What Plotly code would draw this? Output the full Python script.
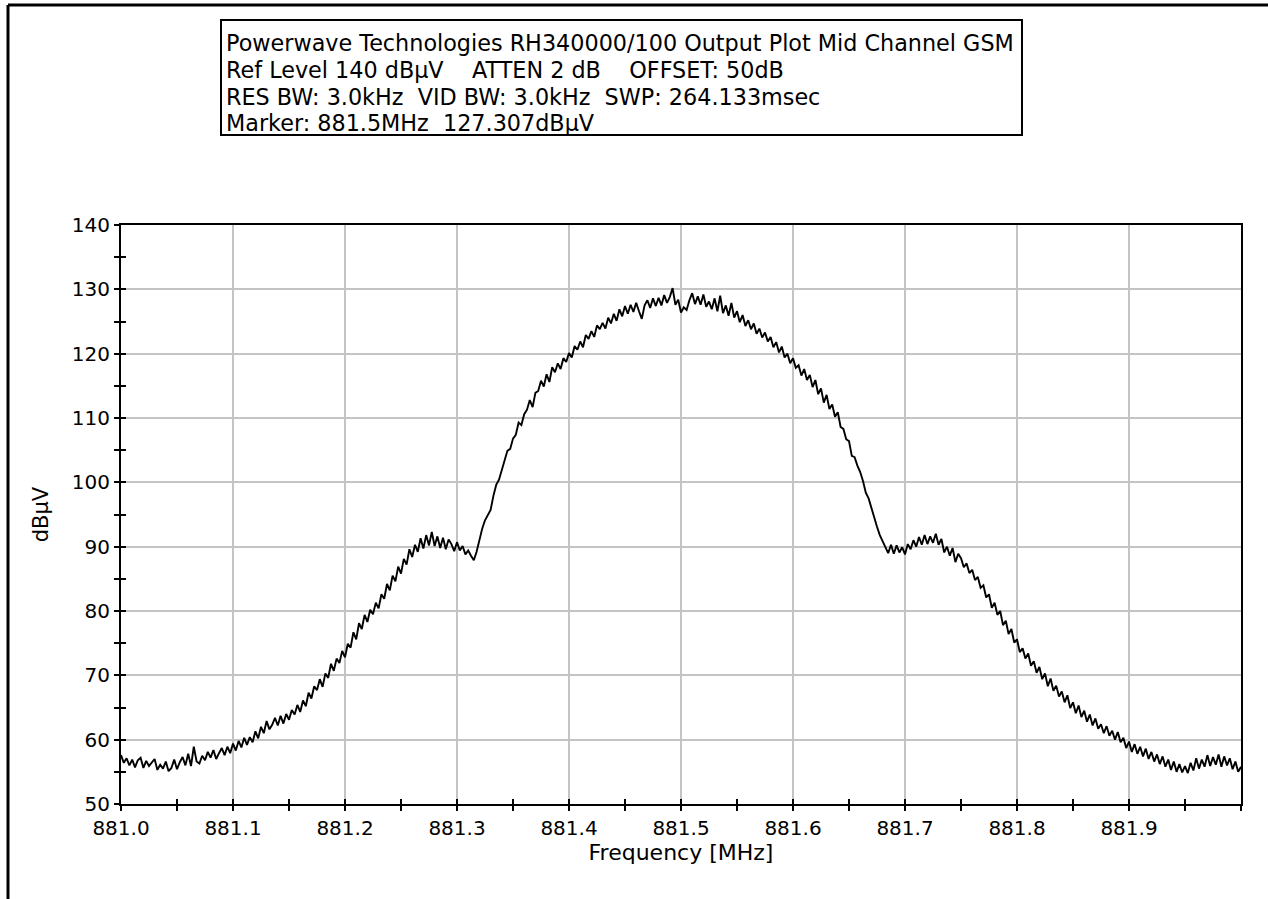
import plotly.graph_objects as go

freq_start = 881.0
freq_step = 0.0025
level_dbuv = [
    57.6, 56.4, 57.1, 56.0, 56.9, 55.7, 56.8, 57.2, 55.6, 56.7, 55.9, 56.4,
    57.0, 55.3, 56.1, 55.5, 56.6, 55.1, 55.6, 56.9, 55.4, 56.5, 57.3, 56.0,
    57.8, 55.9, 58.9, 56.6, 56.3, 57.5, 56.8, 58.1, 57.2, 58.4, 57.0, 57.9,
    58.7, 57.6, 58.9, 57.9, 59.4, 58.3, 59.8, 58.8, 60.3, 59.2, 60.4, 59.6,
    61.3, 60.2, 62.0, 61.0, 62.9, 61.6, 62.3, 63.4, 62.2, 63.7, 62.5, 64.0,
    63.1, 64.6, 63.9, 65.4, 64.3, 66.1, 65.2, 67.3, 66.4, 68.3, 67.7, 69.4,
    68.2, 70.3, 69.6, 71.8, 70.7, 72.6, 71.9, 73.8, 72.8, 74.9, 74.3, 76.7,
    75.6, 78.1, 77.2, 79.4, 78.3, 80.2, 79.5, 81.3, 80.4, 82.6, 81.9, 84.2,
    83.2, 85.5, 84.6, 86.9, 85.8, 88.1, 87.2, 89.6, 88.4, 90.3, 89.2, 91.3,
    89.7, 91.8, 90.2, 92.3, 90.1, 91.6, 89.8, 91.4, 89.6, 91.1, 90.4, 89.3,
    90.7, 89.4, 90.1, 88.8, 89.4, 88.6, 87.9, 89.2, 91.2, 92.8, 94.1, 95.0,
    95.7, 97.9, 99.6, 100.4, 101.9, 103.1, 104.9, 105.2, 106.8, 107.4, 109.3, 108.9,
    110.6, 111.3, 112.8, 111.7, 113.9, 114.2, 115.8, 114.9, 116.8, 115.6, 117.9, 117.1,
    118.5, 117.6, 119.3, 118.7, 120.1, 119.4, 121.2, 120.6, 121.9, 121.0, 122.9, 122.3,
    123.5, 122.6, 124.4, 123.8, 124.8, 123.9, 125.6, 124.7, 126.2, 125.1, 126.9, 125.8,
    127.4, 126.2, 127.6, 126.5, 127.9, 126.6, 125.4, 127.5, 128.3, 127.1, 128.6, 127.4,
    128.7, 127.5, 129.1, 127.9, 128.8, 130.2, 127.6, 128.4, 126.4, 127.2, 126.8, 128.3,
    129.4, 127.7, 128.9, 127.6, 129.2, 127.3, 128.1, 126.9, 128.6, 126.6, 129.0, 126.3,
    127.5, 125.9, 127.9, 125.6, 126.6, 124.9, 126.0, 124.3, 125.2, 123.8, 124.7, 123.1,
    123.9, 122.5, 123.3, 121.9, 122.6, 121.0, 121.8, 120.2, 121.1, 119.4, 120.0, 118.5,
    119.3, 117.8, 118.2, 116.6, 117.6, 115.9, 116.7, 114.8, 115.9, 113.7, 114.6, 112.4,
    113.6, 111.4, 112.1, 110.2, 110.9, 108.6, 108.3, 106.7, 106.4, 104.1, 103.9, 102.6,
    101.6, 100.2, 98.4, 97.5, 96.0, 94.3, 93.1, 91.8, 90.9, 90.1, 89.0, 90.3,
    88.9, 90.2, 89.1, 89.9, 88.8, 90.4, 89.6, 91.0, 90.0, 91.5, 90.3, 91.8,
    90.4, 91.6, 90.6, 92.0, 90.3, 91.2, 89.1, 90.0, 88.6, 89.8, 87.6, 88.9,
    88.2, 86.8, 87.4, 85.9, 86.4, 84.8, 85.3, 83.6, 84.0, 82.1, 82.6, 80.5,
    81.3, 79.4, 80.0, 77.8, 78.5, 76.4, 77.2, 75.1, 75.6, 73.6, 74.2, 72.6,
    73.4, 71.5, 72.2, 70.4, 71.3, 69.4, 70.3, 68.3, 69.5, 67.6, 68.4, 66.7,
    67.5, 65.8, 66.9, 64.9, 65.8, 64.1, 65.3, 63.5, 64.5, 62.8, 63.9, 62.2,
    63.3, 61.7, 62.4, 61.0, 62.1, 60.6, 61.4, 60.0, 61.2, 59.6, 60.3, 58.7,
    59.7, 58.1, 59.3, 57.8, 58.9, 57.4, 58.6, 57.0, 58.1, 56.6, 57.7, 56.2,
    57.4, 55.8, 56.9, 55.3, 56.6, 55.0, 56.2, 54.9, 55.9, 54.8, 56.4, 55.2,
    57.1, 55.5, 56.9, 55.8, 57.6, 55.9, 57.3, 56.1, 57.7, 55.8, 57.4, 56.0,
    57.1, 55.4, 56.6, 55.0, 55.8,
]
freq_mhz = [round(freq_start + i * freq_step, 5) for i in range(len(level_dbuv))]

x_ticks = [881.0, 881.1, 881.2, 881.3, 881.4, 881.5, 881.6, 881.7, 881.8, 881.9]
x_ticktext = ["881.0", "881.1", "881.2", "881.3", "881.4", "881.5", "881.6", "881.7", "881.8", "881.9"]
y_ticks = [50, 60, 70, 80, 90, 100, 110, 120, 130, 140]

header_lines = [
    "Powerwave Technologies RH340000/100 Output Plot Mid Channel GSM",
    "Ref Level 140 dBµV    ATTEN 2 dB    OFFSET: 50dB",
    "RES BW: 3.0kHz  VID BW: 3.0kHz  SWP: 264.133msec",
    "Marker: 881.5MHz  127.307dBµV",
]

FONT = "DejaVu Sans, Liberation Sans, Arial, sans-serif"

# plot area in page pixels (used only to place the header box / frame)
PX_L, PX_R, PX_T, PX_B = 121, 1241, 225, 804


def px_to_paper_x(px):
    return (px - PX_L) / (PX_R - PX_L)


def px_to_paper_y(py):
    return (PX_B - py) / (PX_B - PX_T)


fig = go.Figure()
fig.add_trace(go.Scatter(
    x=freq_mhz, y=level_dbuv, mode="lines",
    line=dict(color="black", width=1.9), showlegend=False, hoverinfo="x+y",
))
# invisible copy on overlay axes so that crossing tick marks get drawn
fig.add_trace(go.Scatter(
    x=freq_mhz, y=level_dbuv, mode="lines", xaxis="x2", yaxis="y2",
    line=dict(color="rgba(0,0,0,0)", width=0), showlegend=False, hoverinfo="skip",
))

header_annotations = []
line_y = [43, 70, 97, 123]
for txt, py in zip(header_lines, line_y):
    header_annotations.append(dict(
        text=txt, xref="paper", yref="paper",
        x=px_to_paper_x(224), y=px_to_paper_y(py),
        xanchor="left", yanchor="middle", align="left", showarrow=False,
        font=dict(family=FONT, size=22.3, color="black"),
    ))

fig.update_layout(
    width=1268, height=899,
    margin=dict(l=PX_L, r=1268 - PX_R, t=PX_T, b=899 - PX_B),
    paper_bgcolor="white", plot_bgcolor="white",
    font=dict(family=FONT, color="black", size=20),
    xaxis=dict(
        range=[881.0, 882.0], tickvals=x_ticks, ticktext=x_ticktext,
        showgrid=True, gridcolor="#c4c4c4", gridwidth=2,
        showline=True, linecolor="black", linewidth=2.2, mirror=True,
        ticks="outside", ticklen=5, tickwidth=2, tickcolor="black",
        minor=dict(dtick=0.05, tick0=881.0, ticks="outside", ticklen=5, tickwidth=2, tickcolor="black", showgrid=False),
        tickfont=dict(size=20), zeroline=False,
        title=dict(text="Frequency [MHz]", font=dict(size=22), standoff=5),
    ),
    yaxis=dict(
        range=[50, 140], tickvals=y_ticks,
        showgrid=True, gridcolor="#c4c4c4", gridwidth=2,
        showline=True, linecolor="black", linewidth=2.2, mirror=True,
        ticks="outside", ticklen=5, tickwidth=2, tickcolor="black",
        minor=dict(dtick=5, tick0=50, ticks="outside", ticklen=5, tickwidth=2, tickcolor="black", showgrid=False),
        tickfont=dict(size=20), zeroline=False,
        title=dict(text="dBµV", font=dict(size=21), standoff=17),
    ),
    xaxis2=dict(
        range=[881.0, 882.0], overlaying="x", anchor="y2", side="bottom",
        dtick=0.05, tick0=881.0, ticks="inside", ticklen=5, tickwidth=2, tickcolor="black",
        showticklabels=False, showgrid=False, zeroline=False, showline=False,
    ),
    yaxis2=dict(
        range=[50, 140], overlaying="y", anchor="x2", side="left",
        dtick=5, tick0=50, ticks="inside", ticklen=5, tickwidth=2, tickcolor="black",
        showticklabels=False, showgrid=False, zeroline=False, showline=False,
    ),
    annotations=header_annotations,
    shapes=[
        # header box
        dict(type="rect", xref="paper", yref="paper",
             x0=px_to_paper_x(221), x1=px_to_paper_x(1022),
             y0=px_to_paper_y(20), y1=px_to_paper_y(135),
             line=dict(color="black", width=2), fillcolor="rgba(0,0,0,0)"),
        # outer frame (top and left edges)
        dict(type="line", xref="paper", yref="paper",
             x0=px_to_paper_x(8), x1=px_to_paper_x(1275),
             y0=px_to_paper_y(5), y1=px_to_paper_y(5),
             line=dict(color="black", width=3)),
        dict(type="line", xref="paper", yref="paper",
             x0=px_to_paper_x(8), x1=px_to_paper_x(8),
             y0=px_to_paper_y(5), y1=px_to_paper_y(910),
             line=dict(color="black", width=3)),
    ],
)

fig.write_html("out.html", config={"displayModeBar": False},
               post_script="document.body.style.margin='0px';")
